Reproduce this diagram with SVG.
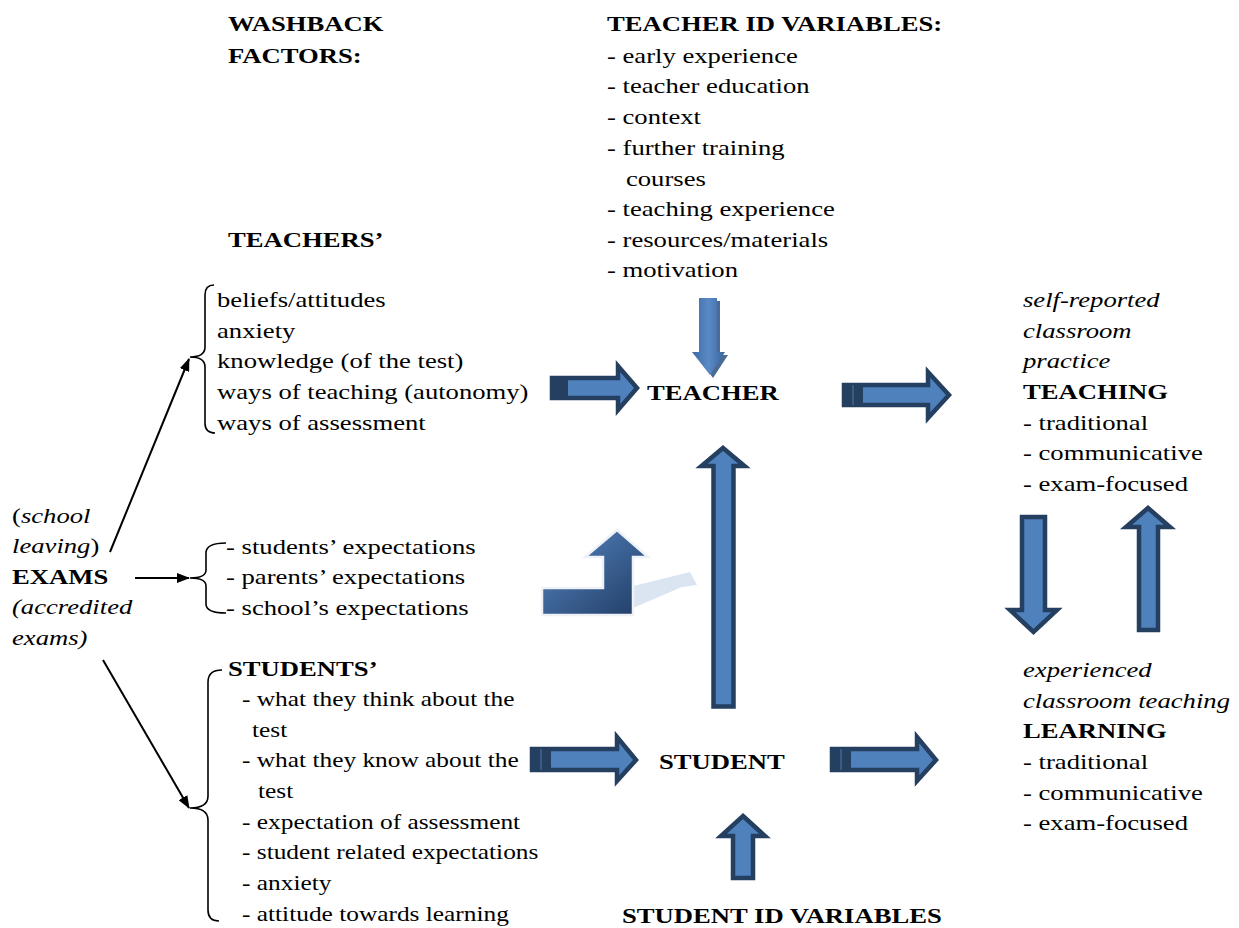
<svg xmlns="http://www.w3.org/2000/svg" width="1239" height="928" viewBox="0 0 1239 928">
  <style>
    text { font-family: "Liberation Serif", "Times New Roman", serif; font-size: 21.5px; fill: #000; }
    .b { font-weight: bold; }
    .i { font-style: italic; }
    .blk { fill: #4f81bd; stroke: #243f60; stroke-width: 4.5; stroke-linejoin: miter; }
    .bar { fill: #243f60; }
    .gap { stroke: #4a6f9c; stroke-width: 1.2; }
    .brace { fill: none; stroke: #000; stroke-width: 1.6; }
    .ln { fill: none; stroke: #000; stroke-width: 2; marker-end: url(#tri); }
  </style>
  <defs>
    <marker id="tri" viewBox="0 0 13 10" refX="12" refY="5" markerWidth="13" markerHeight="10" markerUnits="userSpaceOnUse" orient="auto">
      <path d="M0,0 L13,5 L0,10 Z" fill="#000"/>
    </marker>
    <linearGradient id="gDown" x1="0" y1="0" x2="1" y2="0">
      <stop offset="0" stop-color="#3c69a4"/>
      <stop offset="0.5" stop-color="#5a8ac6"/>
      <stop offset="1" stop-color="#3a659e"/>
    </linearGradient>
    <linearGradient id="gBent" x1="0" y1="0" x2="1" y2="1">
      <stop offset="0" stop-color="#5888c4"/>
      <stop offset="1" stop-color="#1f3b63"/>
    </linearGradient>
  </defs>

  <!-- connectors: thin arrows, braces and block arrows -->
  <g id="connectors">
    <path class="ln" d="M110,552 L189,359"/>
    <path class="ln" d="M135,578 L189,578"/>
    <path class="ln" d="M103,660 L189,808"/>

    <path class="brace" d="M214,285 Q205,285 205,295 L205,347 Q205,357 190,357 Q205,357 205,367 L205,423 Q205,433 215,433"/>
    <path class="brace" d="M226,543 Q206,543 206,553 L206,570 Q206,578 190,578 Q206,578 206,586 L206,604 Q206,613 226,613"/>
    <path class="brace" d="M222,670 Q208,670 208,682 L208,796 Q208,808 190,808 Q208,808 208,820 L208,910 Q208,921 219,921"/>

    <!-- striped right arrows -->
    <polygon class="blk" points="552,378 618,378 618,366 637,388 618,410 618,398 552,398"/>
    <rect class="bar" x="550" y="376" width="18" height="24"/>

    <polygon class="blk" points="844,385 928,385 928,372 949,395 928,418 928,405 844,405"/>
    <rect class="bar" x="842" y="383" width="21" height="24"/>
    <line class="gap" x1="853" y1="385" x2="853" y2="405"/>

    <polygon class="blk" points="532,749 617,749 617,737 636,760 617,781 617,770 532,770"/>
    <rect class="bar" x="530" y="747" width="21" height="25"/>
    <line class="gap" x1="541" y1="749" x2="541" y2="770"/>

    <polygon class="blk" points="832,749 917,749 917,737 936,760 917,781 917,770 832,770"/>
    <rect class="bar" x="830" y="747" width="21" height="25"/>
    <line class="gap" x1="841" y1="749" x2="841" y2="770"/>

    <!-- long up arrow STUDENT to TEACHER -->
    <polygon class="blk" points="723,448 744.5,466 733.5,466 733.5,706.5 713.5,706.5 713.5,466 701.5,466"/>

    <!-- TEACHING / LEARNING pair -->
    <polygon class="blk" points="1022,517 1045,517 1045,610 1057,610 1033.5,632 1010,610 1022,610"/>
    <polygon class="blk" points="1148,508 1170,527 1158,527 1158,630 1139,630 1139,527 1126,527"/>

    <!-- short up arrow from student variables -->
    <polygon class="blk" points="743,816 765,836 753,836 753,878 733,878 733,836 721,836"/>

    <!-- soft down arrow from teacher variables -->
    <polygon points="702,301 720,301 720,355 728,355 713,378 696,355 702,355" fill="#2b5081" opacity="0.85"/>
    <polygon points="699,298 717,298 717,352 725,352 710,375 692,352 699,352" fill="url(#gDown)"/>

    <!-- bent arrow with its faint shadow -->
    <polygon points="633,586 690,572 697,585 682,587 633,608" fill="#dbe5f1"/>
    <polygon points="542,588 603,588 603,557 585,557 617,530 648,557 633,557 633,615 542,615" fill="url(#gBent)" stroke="#eef2f7" stroke-width="2.5"/>
  </g>

  <g id="washback-factors" transform="translate(228,31) scale(1.24 1)">
    <text class="b"><tspan x="0" y="0">WASHBACK</tspan><tspan x="0" y="32">FACTORS:</tspan></text>
  </g>

  <g id="teacher-id-variables" transform="translate(607,31) scale(1.24 1)">
    <text>
      <tspan class="b" x="0" y="0">TEACHER ID VARIABLES:</tspan>
      <tspan x="0" y="32">- early experience</tspan>
      <tspan x="0" y="62.5">- teacher education</tspan>
      <tspan x="0" y="93">- context</tspan>
      <tspan x="0" y="124">- further training</tspan>
      <tspan x="15.3" y="155">courses</tspan>
      <tspan x="0" y="185.5">- teaching experience</tspan>
      <tspan x="0" y="216">- resources/materials</tspan>
      <tspan x="0" y="246.5">- motivation</tspan>
    </text>
  </g>

  <g id="teachers-factors" transform="translate(217,307) scale(1.24 1)">
    <text>
      <tspan class="b" x="8.9" y="-60">TEACHERS’</tspan>
      <tspan x="0" y="0">beliefs/attitudes</tspan>
      <tspan x="0" y="30.7">anxiety</tspan>
      <tspan x="0" y="61.4">knowledge (of the test)</tspan>
      <tspan x="0" y="92.1">ways of teaching (autonomy)</tspan>
      <tspan x="0" y="122.8">ways of assessment</tspan>
    </text>
  </g>

  <g id="teacher" transform="translate(647,400) scale(1.24 1)">
    <text class="b">TEACHER</text>
  </g>

  <g id="teaching" transform="translate(1023,307) scale(1.24 1)">
    <text>
      <tspan class="i" x="0" y="0">self-reported</tspan>
      <tspan class="i" x="0" y="30.7">classroom</tspan>
      <tspan class="i" x="0" y="61.4">practice</tspan>
      <tspan class="b" x="0" y="92.1">TEACHING</tspan>
      <tspan x="0" y="122.8">- traditional</tspan>
      <tspan x="0" y="153.5">- communicative</tspan>
      <tspan x="0" y="184.2">- exam-focused</tspan>
    </text>
  </g>

  <g id="exams" transform="translate(12,523) scale(1.24 1)">
    <text>
      <tspan x="0" y="0">(</tspan><tspan class="i">school</tspan>
      <tspan class="i" x="0" y="30.5">leaving</tspan><tspan>)</tspan>
      <tspan class="b" x="0" y="61">EXAMS</tspan>
      <tspan class="i" x="0" y="91.5">(accredited</tspan>
      <tspan class="i" x="0" y="122">exams)</tspan>
    </text>
  </g>

  <g id="expectations" transform="translate(226,554) scale(1.24 1)">
    <text>
      <tspan x="0" y="0">- students’ expectations</tspan>
      <tspan x="0" y="30.5">- parents’ expectations</tspan>
      <tspan x="0" y="61">- school’s expectations</tspan>
    </text>
  </g>

  <g id="students-factors">
    <g transform="translate(228,676) scale(1.24 1)">
      <text class="b">STUDENTS’</text>
    </g>
    <g transform="translate(242,706) scale(1.18 1)">
      <text>
        <tspan x="0" y="0">- what they think about the</tspan>
        <tspan x="8.5" y="30.7">test</tspan>
        <tspan x="0" y="61.4">- what they know about the</tspan>
        <tspan x="13.6" y="92.1">test</tspan>
        <tspan x="0" y="122.8">- expectation of assessment</tspan>
        <tspan x="0" y="153.5">- student related expectations</tspan>
        <tspan x="0" y="184.2">- anxiety</tspan>
        <tspan x="0" y="214.9">- attitude towards learning</tspan>
      </text>
    </g>
  </g>

  <g id="student" transform="translate(659,769) scale(1.24 1)">
    <text class="b">STUDENT</text>
  </g>

  <g id="learning" transform="translate(1023,677) scale(1.24 1)">
    <text>
      <tspan class="i" x="0" y="0">experienced</tspan>
      <tspan class="i" x="0" y="30.7">classroom teaching</tspan>
      <tspan class="b" x="0" y="61.4">LEARNING</tspan>
      <tspan x="0" y="92.1">- traditional</tspan>
      <tspan x="0" y="122.8">- communicative</tspan>
      <tspan x="0" y="153.5">- exam-focused</tspan>
    </text>
  </g>

  <g id="student-id-variables" transform="translate(622,923) scale(1.24 1)">
    <text class="b">STUDENT ID VARIABLES</text>
  </g>
</svg>
